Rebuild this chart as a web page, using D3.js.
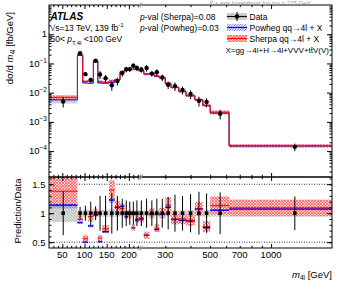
<!DOCTYPE html>
<html>
<head>
<meta charset="utf-8">
<script src="https://cdn.jsdelivr.net/npm/d3@7"></script>
<style>
  body { margin: 0; background: #fff; }
  text { font-family: "Liberation Sans", Arial, sans-serif; }
</style>
</head>
<body>
<div id="chart"></div>
<script>
// m4l bin edges [GeV]
const binEdges = [20, 84, 96, 108, 120, 130, 140, 155, 168, 180, 190, 198, 206, 214, 222,
                  235, 250, 265, 280, 300, 320, 350, 380, 420, 460, 500, 620, 2000];
// dsigma/dm4l [fb/GeV]
const dataValues = [0.0050, 0.222, 0.043, 0.027, 0.124, 0.042, 0.031, 0.018, 0.025, 0.047, 0.063, 0.064, 0.083, 0.070,
                    0.062, 0.070, 0.045, 0.050, 0.033, 0.0185, 0.0168, 0.0123, 0.0090, 0.0053, 0.0048, 0.0019, 0.00014];
const dataStat = [0.38, 0.11, 0.13, 0.2, 0.12, 0.3, 0.3, 0.35, 0.3, 0.25, 0.22, 0.2, 0.2, 0.22,
                  0.22, 0.25, 0.22, 0.25, 0.25, 0.28, 0.32, 0.3, 0.33, 0.37, 0.34, 0.36, 0.29];
const dataSyst = [0.15, 0.05, 0.06, 0.06, 0.05, 0.06, 0.06, 0.07, 0.06, 0.05, 0.05, 0.05, 0.05, 0.05,
                  0.05, 0.05, 0.05, 0.05, 0.05, 0.05, 0.05, 0.05, 0.05, 0.05, 0.06, 0.06, 0.06];
const sherpaValues = [0.0069, 0.198, 0.0241, 0.0254, 0.125, 0.0239, 0.0226, 0.0252, 0.0278, 0.0508, 0.0611, 0.0627, 0.0623, 0.0630,
                      0.0570, 0.0434, 0.0450, 0.0370, 0.0330, 0.0211, 0.0151, 0.0111, 0.0079, 0.0057, 0.0037, 0.00215, 0.000153];
const sherpaUnc = [0.18, 0.07, 0.12, 0.09, 0.07, 0.1, 0.09, 0.12, 0.09, 0.08, 0.07, 0.07, 0.07, 0.07,
                   0.08, 0.1, 0.09, 0.09, 0.09, 0.12, 0.1, 0.1, 0.1, 0.11, 0.12, 0.14, 0.13];
const powhegValues = [0.0057, 0.186, 0.0215, 0.0211, 0.120, 0.0214, 0.0211, 0.0221, 0.0275, 0.0526, 0.0592, 0.0640, 0.0623, 0.0616,
                      0.0558, 0.0434, 0.0441, 0.0360, 0.0323, 0.0204, 0.0150, 0.0108, 0.0078, 0.0057, 0.0036, 0.0020, 0.00015];
const powhegUnc = [0.05, 0.03, 0.04, 0.04, 0.03, 0.04, 0.04, 0.04, 0.03, 0.03, 0.03, 0.03, 0.03, 0.03,
                   0.03, 0.03, 0.03, 0.03, 0.03, 0.04, 0.03, 0.03, 0.03, 0.04, 0.04, 0.04, 0.04];

// tick labels
const xTickValues = [50, 100, 150, 200, 300, 500, 700, 1000];
const yTickValues = [1e-4, 1e-3, 1e-2, 1e-1, 1];
const yTickExps = ["\u22124", "\u22123", "\u22122", "\u22121", ""];
const ratioTickValues = [0.5, 1, 1.5];
const ratioTickLabels = ["0.5", "1", "1.5"];
const xBreak = 225;

// Layout
const W = 349, H = 295;
const left = 49, right = 332;
const mainTop = 5, mainBottom = 177, ratioBottom = 248;

const svg = d3.select("#chart").append("svg")
  .attr("width", W).attr("height", H);

// x axis: linear up to 225 GeV, logarithmic above
const xLin = d3.scaleLinear().domain([20, xBreak]).range([left, 140]);
const xLog = d3.scaleLog().domain([xBreak, 2000]).range([140, right]);
const x = v => v <= xBreak ? xLin(v) : xLog(v);

const y = d3.scaleLog().domain([1.3e-5, 10]).range([mainBottom, mainTop]);
const yR = d3.scaleLinear().domain([0.4, 1.625]).range([ratioBottom, mainBottom]);

const bins = binEdges.slice(0, -1).map((lo, i) => ({
  lo: lo, hi: binEdges[i + 1], c: (lo + binEdges[i + 1]) / 2,
  d: dataValues[i], stat: dataStat[i], syst: dataSyst[i],
  sh: sherpaValues[i], shU: sherpaUnc[i], pw: powhegValues[i], pwU: powhegUnc[i]
}));

// hatch patterns
const defs = svg.append("defs");
const redHatch = defs.append("pattern").attr("id", "redHatch")
  .attr("patternUnits", "userSpaceOnUse").attr("width", 3).attr("height", 3);
redHatch.append("rect").attr("width", 3).attr("height", 3).attr("fill", "#ffd8d8");
redHatch.append("path").attr("d", "M0,3L3,0M0,0L3,3").attr("stroke", "#ff3030").attr("stroke-width", 0.6);
const blueHatch = defs.append("pattern").attr("id", "blueHatch")
  .attr("patternUnits", "userSpaceOnUse").attr("width", 2.5).attr("height", 2.5);
blueHatch.append("path").attr("d", "M-1,3.5L3.5,-1M-1,1L1,-1M1.5,3.5L3.5,1.5").attr("stroke", "#3030ff").attr("stroke-width", 0.7);
const grayHatch = defs.append("pattern").attr("id", "grayHatch")
  .attr("patternUnits", "userSpaceOnUse").attr("width", 3).attr("height", 3);
grayHatch.append("rect").attr("width", 3).attr("height", 3).attr("fill", "#dcdcdc");
grayHatch.append("path").attr("d", "M0,0L3,3").attr("stroke", "#a0a0a0").attr("stroke-width", 0.6);

defs.append("clipPath").attr("id", "clipMain").append("rect")
  .attr("x", left).attr("y", mainTop).attr("width", right - left).attr("height", mainBottom - mainTop);
defs.append("clipPath").attr("id", "clipRatio").append("rect")
  .attr("x", left).attr("y", mainBottom).attr("width", right - left).attr("height", ratioBottom - mainBottom);

// ---------- main panel ----------
const main = svg.append("g").attr("clip-path", "url(#clipMain)");

function bandRects(g, lowFn, highFn, yScale, fill) {
  g.append("g").selectAll("rect").data(bins).join("rect")
    .attr("x", d => x(d.lo))
    .attr("width", d => x(d.hi) - x(d.lo))
    .attr("y", d => yScale(highFn(d)))
    .attr("height", d => yScale(lowFn(d)) - yScale(highFn(d)))
    .attr("fill", fill);
}

bandRects(main, d => d.d * (1 - d.syst), d => d.d * (1 + d.syst), y, "url(#grayHatch)");
bandRects(main, d => d.pw * (1 - d.pwU), d => d.pw * (1 + d.pwU), y, "url(#blueHatch)");
bandRects(main, d => d.sh * (1 - d.shU), d => d.sh * (1 + d.shU), y, "url(#redHatch)");

const stepLine = d3.line().x(p => x(p[0])).y(p => y(p[1]));
main.append("path")
  .datum(bins.flatMap(d => [[d.lo, d.pw], [d.hi, d.pw]]))
  .attr("d", stepLine).attr("fill", "none").attr("stroke", "#0000ff").attr("stroke-width", 1);
main.append("path")
  .datum(bins.flatMap(d => [[d.lo, d.sh], [d.hi, d.sh]]))
  .attr("d", stepLine).attr("fill", "none").attr("stroke", "#ff0000").attr("stroke-width", 1);

// data points
main.append("g").selectAll("line").data(bins).join("line")
  .attr("x1", d => x(d.c)).attr("x2", d => x(d.c))
  .attr("y1", d => y(d.d * (1 + d.stat))).attr("y2", d => y(d.d * (1 - d.stat)))
  .attr("stroke", "black").attr("stroke-width", 1);
main.append("g").selectAll("circle").data(bins).join("circle")
  .attr("cx", d => x(d.c)).attr("cy", d => y(d.d)).attr("r", 2.2).attr("fill", "black");

// ---------- ratio panel ----------
const ratio = svg.append("g").attr("clip-path", "url(#clipRatio)");

ratio.append("g").selectAll("line").data(ratioTickValues).join("line")
  .attr("x1", left).attr("x2", right)
  .attr("y1", d => yR(d)).attr("y2", d => yR(d))
  .attr("stroke", "black").attr("stroke-width", 0.8).attr("stroke-dasharray", "1,1.5");

bandRects(ratio, d => 1 - d.syst, d => 1 + d.syst, yR, "url(#grayHatch)");
bandRects(ratio, d => d.pw / d.d * (1 - d.pwU), d => d.pw / d.d * (1 + d.pwU), yR, "url(#blueHatch)");
bandRects(ratio, d => d.sh / d.d * (1 - d.shU), d => d.sh / d.d * (1 + d.shU), yR, "url(#redHatch)");

ratio.append("g").selectAll("line").data(bins).join("line")
  .attr("x1", d => x(d.lo)).attr("x2", d => x(d.hi))
  .attr("y1", d => yR(d.pw / d.d)).attr("y2", d => yR(d.pw / d.d))
  .attr("stroke", "#0000ff").attr("stroke-width", 1.5);
ratio.append("g").selectAll("line").data(bins).join("line")
  .attr("x1", d => x(d.lo)).attr("x2", d => x(d.hi))
  .attr("y1", d => yR(d.sh / d.d)).attr("y2", d => yR(d.sh / d.d))
  .attr("stroke", "#ff0000").attr("stroke-width", 1);

ratio.append("g").selectAll("line").data(bins).join("line")
  .attr("x1", d => x(d.c)).attr("x2", d => x(d.c))
  .attr("y1", d => yR(1 + d.stat)).attr("y2", d => yR(1 - d.stat))
  .attr("stroke", "black").attr("stroke-width", 1);
ratio.append("g").selectAll("rect").data(bins).join("rect")
  .attr("x", d => x(d.c) - 1.8).attr("y", yR(1) - 1.8)
  .attr("width", 3.6).attr("height", 3.6).attr("fill", "black");

// ---------- frames and axes ----------
svg.append("rect").attr("x", left).attr("y", mainTop).attr("width", right - left)
  .attr("height", mainBottom - mainTop).attr("fill", "none").attr("stroke", "black");
svg.append("rect").attr("x", left).attr("y", mainBottom).attr("width", right - left)
  .attr("height", ratioBottom - mainBottom).attr("fill", "none").attr("stroke", "black");

const linMajor = [50, 100, 150, 200];
const linMinor = d3.range(30, 225, 10).filter(v => v % 50 !== 0);
const logMinor = [300, 400, 500, 600, 700, 800, 900];
const logMajor = [1000];

// inward ticks on a horizontal edge; dir = -1 points up, 1 points down
function xTicks(yPos, dir) {
  const g = svg.append("g").attr("transform", `translate(0,${yPos})`);
  const axisFn = dir < 0 ? d3.axisTop : d3.axisBottom;
  [[xLin, linMajor, 4], [xLin, linMinor, 2.2], [xLog, logMajor, 4], [xLog, logMinor, 2.2]].forEach(([s, vals, len]) => {
    g.append("g").call(axisFn(s).tickValues(vals).tickSize(len).tickFormat(""))
      .call(a => a.select(".domain").remove());
  });
  // break marker
  g.append("path").attr("d", "M138.5,2.5L140.5,-2.5M140.5,2.5L142.5,-2.5")
    .attr("stroke", "#999").attr("stroke-width", 0.9).attr("fill", "none");
}
xTicks(mainTop, 1);
xTicks(mainBottom, -1);
xTicks(mainBottom, 1);
xTicks(ratioBottom, -1);

// x tick labels
svg.append("g").selectAll("text").data(xTickValues).join("text")
  .attr("x", d => x(d)).attr("y", 257.5)
  .attr("text-anchor", "middle").attr("font-size", 9.5)
  .text(d => d);

const xLabel = svg.append("text").attr("x", right).attr("y", 277.5)
  .attr("text-anchor", "end").attr("font-size", 9.5);
xLabel.append("tspan").attr("font-style", "italic").text("m");
xLabel.append("tspan").attr("font-size", 6.5).attr("dy", 2).text("4l");
xLabel.append("tspan").attr("dy", -2).text(" [GeV]");

// main y axis ticks
const yMinor = [];
for (let e = -5; e <= 0; e++) for (let k = 2; k <= 9; k++) {
  const v = k * Math.pow(10, e);
  if (v > 1.3e-5 && v < 10) yMinor.push(v);
}
[[d3.axisLeft, left], [d3.axisRight, right]].forEach(([fn, xp]) => {
  const g = svg.append("g").attr("transform", `translate(${xp},0)`);
  g.append("g").call(fn(y).tickValues(yTickValues).tickSize(-5).tickFormat(""))
    .call(a => a.select(".domain").remove());
  g.append("g").call(fn(y).tickValues(yMinor).tickSize(-2.5).tickFormat(""))
    .call(a => a.select(".domain").remove());
  const gr = svg.append("g").attr("transform", `translate(${xp},0)`);
  gr.append("g").call(fn(yR).tickValues(ratioTickValues).tickSize(-5).tickFormat(""))
    .call(a => a.select(".domain").remove());
  gr.append("g").call(fn(yR).tickValues(d3.range(0.5, 1.65, 0.1)).tickSize(-2.5).tickFormat(""))
    .call(a => a.select(".domain").remove());
});

const yLab = svg.append("g").selectAll("text").data(yTickValues).join("text")
  .attr("x", 47).attr("y", d => y(d) + 3.2)
  .attr("text-anchor", "end").attr("font-size", 9.5);
yLab.append("tspan").text((d, i) => yTickExps[i] ? "10" : "1");
yLab.append("tspan").attr("font-size", 6.5).attr("dy", -4).text((d, i) => yTickExps[i]);

svg.append("g").selectAll("text").data(ratioTickValues).join("text")
  .attr("x", 45.5).attr("y", d => yR(d) + 3.3)
  .attr("text-anchor", "end").attr("font-size", 9.5)
  .text((d, i) => ratioTickLabels[i]);

// y titles
const yTitle = svg.append("text")
  .attr("transform", "translate(12.5,12) rotate(-90)")
  .attr("text-anchor", "end").attr("font-size", 9.5);
yTitle.append("tspan").text("d\u03c3/d ");
yTitle.append("tspan").attr("font-style", "italic").text("m");
yTitle.append("tspan").attr("font-size", 6.5).attr("dy", 2).text("4l");
yTitle.append("tspan").attr("dy", -2).text(" [fb/GeV]");

svg.append("text")
  .attr("transform", "translate(20.5,211) rotate(-90)")
  .attr("text-anchor", "middle").attr("font-size", 9.5)
  .text("Prediction/Data");

// ---------- labels ----------
svg.append("text").attr("x", 50.5).attr("y", 19.5)
  .attr("font-size", 10).attr("font-weight", "bold").attr("font-style", "italic")
  .text("ATLAS");

const lumi = svg.append("text").attr("x", 50.5).attr("y", 30.5).attr("font-size", 8.5);
lumi.append("tspan").text("\u221as=13 TeV, 139 fb");
lumi.append("tspan").attr("font-size", 6).attr("dy", -3.5).text("-1");

const slice = svg.append("text").attr("x", 50.5).attr("y", 42).attr("font-size", 8.5);
slice.append("tspan").text("50< ");
slice.append("tspan").attr("font-style", "italic").text("p");
slice.append("tspan").attr("font-size", 6).attr("dy", 2.5).text("T,4l");
slice.append("tspan").attr("dy", -2.5).text(" <100 GeV");

[["(Sherpa)=0.08", 20], ["(Powheg)=0.03", 31]].forEach(([t, yy]) => {
  const tx = svg.append("text").attr("x", 140).attr("y", yy).attr("font-size", 8.5);
  tx.append("tspan").attr("font-style", "italic").text("p");
  tx.append("tspan").text("-val " + t);
});

// legend
const legRows = [
  {label: "Data", fill: "url(#grayHatch)", line: "black", y: 16.5},
  {label: "Powheg qq\u21924l + X", fill: "url(#blueHatch)", line: "#0000ff", y: 27.5},
  {label: "Sherpa qq\u21924l + X", fill: "url(#redHatch)", line: "#ff0000", y: 38.5}
];
const leg = svg.append("g").selectAll("g").data(legRows).join("g");
leg.append("rect").attr("x", 227).attr("y", d => d.y - 3.5).attr("width", 20).attr("height", 7)
  .attr("fill", d => d.fill);
leg.append("line").attr("x1", 227).attr("x2", 247).attr("y1", d => d.y).attr("y2", d => d.y)
  .attr("stroke", d => d.line).attr("stroke-width", 1.2);
leg.append("text").attr("x", 249.5).attr("y", d => d.y + 3.3).attr("font-size", 8.5)
  .text(d => d.label);
svg.append("line").attr("x1", 237).attr("x2", 237).attr("y1", 12).attr("y2", 21)
  .attr("stroke", "black");
svg.append("circle").attr("cx", 237).attr("cy", 16.5).attr("r", 2.2).attr("fill", "black");

svg.append("text").attr("x", 329).attr("y", 52.5).attr("text-anchor", "end").attr("font-size", 8)
  .text("X=gg\u21924l+H\u21924l+VVV+t\u0074\u0304V(V)");

// note on the x axis
svg.append("path").attr("d", "M209.5,5L211,0.5M211,5L212.5,0.5")
  .attr("stroke", "#aaa").attr("stroke-width", 0.8).attr("fill", "none");
const note = svg.append("text").attr("x", 215).attr("y", 4.8).attr("font-size", 6).attr("fill", "#999");
note.append("tspan").text("x axis logarithmic for ");
note.append("tspan").attr("font-style", "italic").text("m");
note.append("tspan").attr("font-size", 4.5).attr("dy", 1).text("4l");
note.append("tspan").attr("dy", -1).text(" > 225 GeV");
</script>
</body>
</html>
